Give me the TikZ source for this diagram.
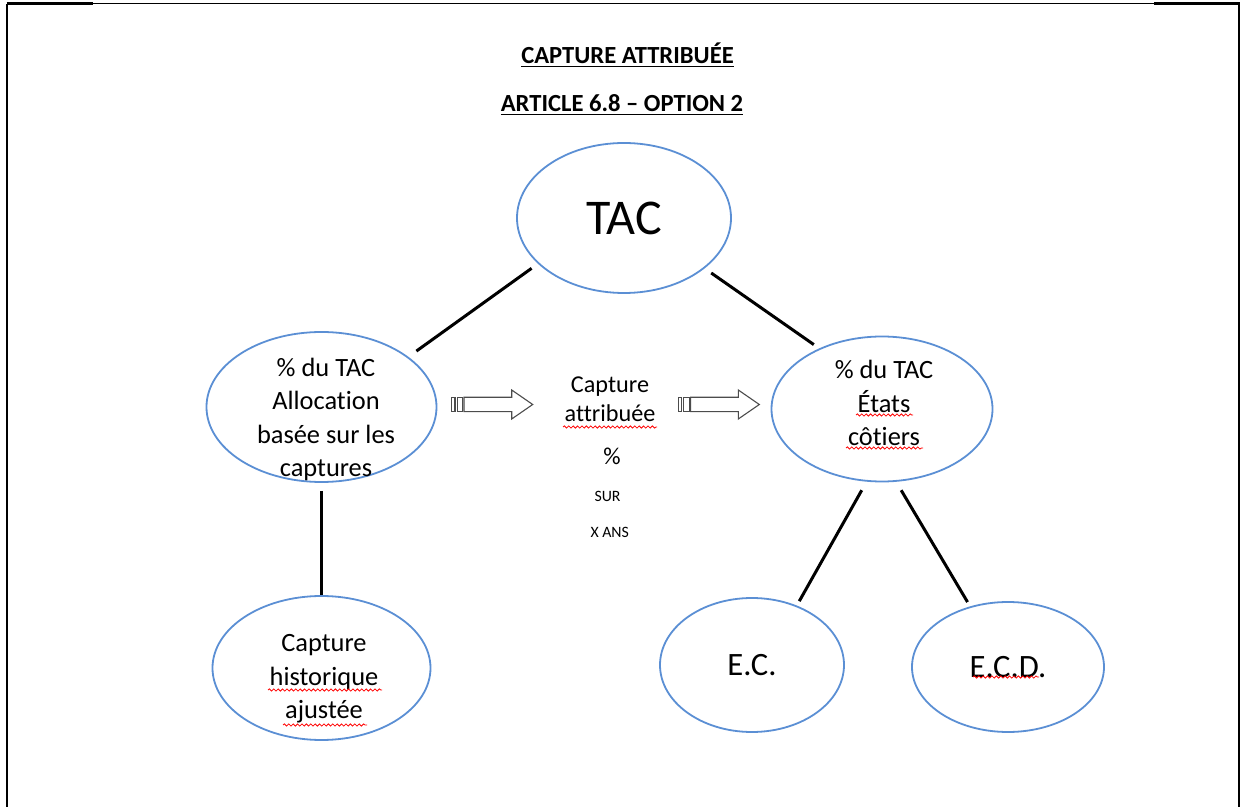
\documentclass[tikz,border=0pt]{standalone}
\usepackage{fontspec}
\setmainfont{Carlito}[Ligatures=TeX, RawFeature={-liga;-clig;-dlig}]
\usetikzlibrary{positioning,shapes.geometric,decorations.pathmorphing}
\definecolor{ovalblue}{RGB}{91,143,212}
\tikzset{
  oval/.style={draw=ovalblue, line width=0.9pt, ellipse, inner sep=0pt},
  link/.style={line width=1.5pt},
  ovaltext/.style={align=center, font=\fontsize{13.2}{16.75}\selectfont},
  midtext/.style={align=center, font=\fontsize{12.1}{14.5}\selectfont},
  smalltext/.style={anchor=base, font=\fontsize{7.9}{9.5}\selectfont},
  titletext/.style={anchor=base, font=\fontsize{12.3}{14}\selectfont\bfseries},
  spell/.style={draw=red, line width=0.4pt, decorate, decoration={snake, amplitude=0.55pt, segment length=2.2pt}},
  blockarrow/.style={draw=black!70, line width=0.55pt, fill=white},
  frameline/.style={line width=1.2pt}
}
\begin{document}
\begin{tikzpicture}[x=0.5pt,y=-0.5pt]
\useasboundingbox (0,0) rectangle (1243,807);
% page frame
\draw[frameline] (7,3.7) -- (7,807);
\draw[frameline] (1239,3.2) -- (1239,807);
\draw[frameline] (6.5,3.7) -- (93,3.7);
\draw[line width=0.5pt] (93,3.7) -- (1154,3.7);
\draw[frameline] (1154,3.7) -- (1239.5,3.7);
% titles
\node[titletext] (titre) at (627.5,63.3) {\underline{CAPTURE ATTRIBUÉE}};
\node[titletext] (article) at (622,111.7) {\underline{ARTICLE 6.8 – OPTION 2}};
% ovals
\node[oval, minimum width=107pt, minimum height=75pt, font=\fontsize{25}{30}\selectfont] (tac) at (624,218) {TAC};
\node[oval, minimum width=115pt, minimum height=75pt] (alloc) at (321.5,407) {};
\node[oval, minimum width=110.5pt, minimum height=72.5pt] (cotiers) at (882,409) {};
\node[oval, minimum width=109pt, minimum height=72pt] (histo) at (321.5,668) {};
\node[oval, minimum width=92pt, minimum height=67pt, font=\fontsize{16.3}{19}\selectfont] (ec) at (752,665) {E.C.};
\node[oval, minimum width=96pt, minimum height=65pt, font=\fontsize{16.3}{19}\selectfont] (ecd) at (1008,667) {E.C.D.};
% oval texts
\node[ovaltext] (alloctxt) at (326,419.5) {\% du TAC\\Allocation\\basée sur les\\captures};
\node[ovaltext] (cotierstxt) at (884,403) {\% du TAC\\États\\côtiers};
\node[ovaltext] (histotxt) at (324,679) {Capture\\historique\\ajustée};
% middle texts
\node[midtext] (capttxt) at (610,399.5) {Capture\\attribuée};
\node[midtext, anchor=base] (pct) at (612,465) {\%};
\node[smalltext] (sur) at (607.5,501.7) {SUR};
\node[smalltext] (xans) at (609.7,537.3) {X ANS};
% connectors
\draw[link, shorten <=3.9pt, shorten >=4.9pt] (tac.208.8) -- (alloc.30.3);
\draw[link, shorten <=4pt, shorten >=3.3pt] (tac.328.2) -- (cotiers.136.3);
\draw[link, shorten <=4pt] (alloc.south) -- (histo.north);
\draw[link, shorten <=4.9pt, shorten >=2.5pt] (cotiers.258.8) -- (ec.53.3);
\draw[link, shorten <=4.9pt, shorten >=2.5pt] (cotiers.281.9) -- (ecd.122.6);
% striped block arrows
\foreach \ax in {451.7,678.3} {
  \draw[blockarrow] (\ax,397.3) rectangle (\ax+3.3,411.7);
  \draw[blockarrow] (\ax+5.6,397.3) rectangle (\ax+11,411.7);
  \draw[blockarrow] (\ax+12.3,397.3) -- (\ax+60,397.3) -- (\ax+60,390) -- (\ax+81,404.5)
    -- (\ax+60,419) -- (\ax+60,411.7) -- (\ax+12.3,411.7) -- cycle;
}
% spelling marks
\draw[spell] (563,427) -- (657,427);
\draw[spell] (856,415) -- (913,415);
\draw[spell] (846,448) -- (923,448);
\draw[spell] (268,690) -- (382,690);
\draw[spell] (283,725) -- (367,725);
\draw[spell] (973,677) -- (1039,677);
\end{tikzpicture}
\end{document}
